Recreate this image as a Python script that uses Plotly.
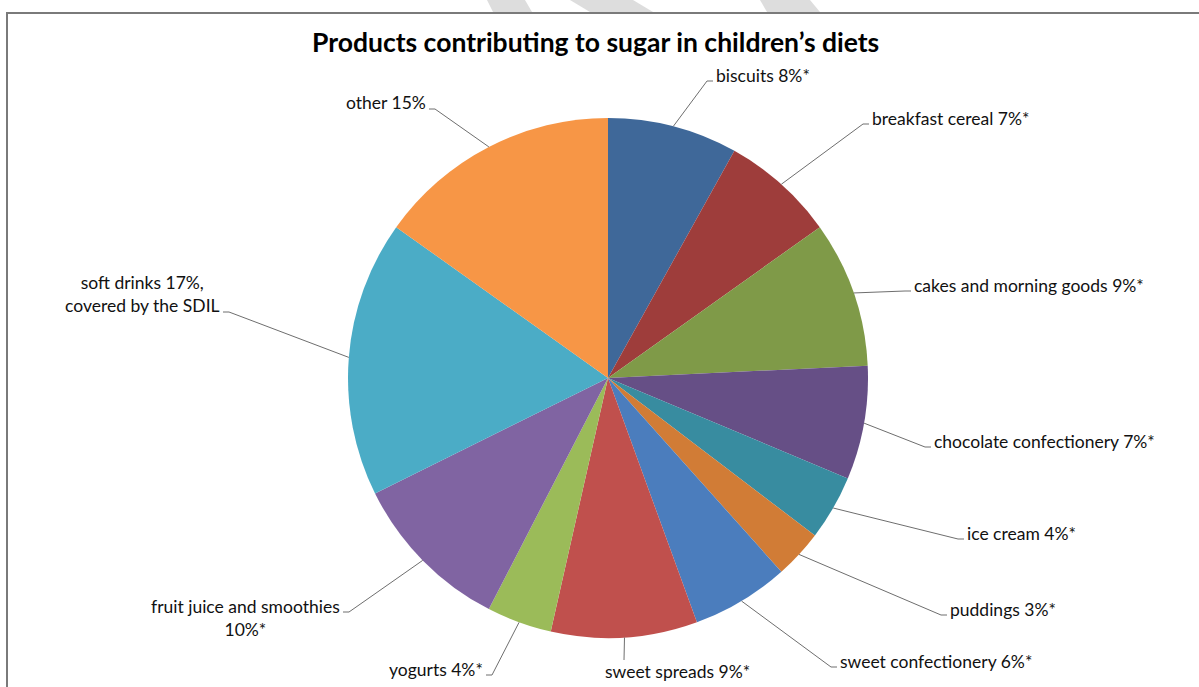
import math
import plotly.graph_objects as go

W, H = 1199, 687

# ---- data -------------------------------------------------------------
categories = [
    "biscuits", "breakfast cereal", "cakes and morning goods",
    "chocolate confectionery", "ice cream", "puddings",
    "sweet confectionery", "sweet spreads", "yogurts",
    "fruit juice and smoothies", "soft drinks", "other",
]
shares = [8, 7, 9, 7, 4, 3, 6, 9, 4, 10, 17, 15]
label_formats = [
    "{c} {v}%*", "{c} {v}%*", "{c} {v}%*", "{c} {v}%*", "{c} {v}%*",
    "{c} {v}%*", "{c} {v}%*", "{c} {v}%*", "{c} {v}%*",
    "{c}<br>{v}%*", "{c} {v}%,<br>covered by the SDIL", "{c} {v}%",
]
title_text = "Products contributing to sugar in children\u2019s diets"

# ---- styling ----------------------------------------------------------
slice_colors = [
    "#3F6899", "#9E3D3B", "#7F9A48", "#664F86", "#388CA0", "#D17C36",
    "#4B7DBD", "#C0504D", "#9BBB59", "#8064A2", "#4BACC6", "#F79646",
]
FONT = "Lato"
LINE_COLOR = "#6e6e6e"

# pie geometry in pixels
CX, CY, R = 608, 378, 260

# label placement in pixels: (text x, text y, xanchor, elbow x, elbow y)
label_layout = [
    (714, 75, "left", 707, 81),
    (870, 118, "left", 863, 124),
    (912, 285, "left", 905, 291),
    (932, 441, "left", 925, 447),
    (965, 533, "left", 958, 539),
    (948, 609, "left", 941, 615),
    (838, 661, "left", 831, 667),
    (603, 671, "left", 624, 660),
    (485, 669, "right", 492, 675),
    (342, 618, "right", 349, 612),
    (222, 294, "right", 229, 312),
    (428, 103, "right", 435, 109),
]


def px(x):
    return x / W


def py(y):
    return 1 - y / H


fig = go.Figure(
    go.Pie(
        labels=categories,
        values=shares,
        sort=False,
        direction="clockwise",
        rotation=0,
        marker=dict(colors=slice_colors, line=dict(width=0)),
        textinfo="none",
        hoverinfo="label+percent",
        showlegend=False,
        domain=dict(x=[px(CX - R), px(CX + R)], y=[py(CY + R), py(CY - R)]),
    )
)

total = sum(shares)
shapes = []
annotations = []
cum = 0
for cat, v, fmt, (tx, ty, xa, ex, ey) in zip(categories, shares, label_formats, label_layout):
    mid = (cum + v / 2) / total * 2 * math.pi
    cum += v
    sx = CX + R * math.sin(mid)
    sy = CY - R * math.cos(mid)
    if cat == "sweet spreads":
        path = f"M {px(sx)},{py(sy)} L {px(ex)},{py(ey)}"
    else:
        hx = ex + 6 if xa == "left" else ex - 6
        path = f"M {px(sx)},{py(sy)} L {px(ex)},{py(ey)} L {px(hx)},{py(ey)}"
    shapes.append(dict(type="path", xref="paper", yref="paper", path=path,
                       line=dict(color=LINE_COLOR, width=1)))
    annotations.append(dict(
        text=fmt.format(c=cat, v=v), x=px(tx), y=py(ty), xref="paper", yref="paper",
        xanchor=xa, yanchor="middle", align="center", showarrow=False,
        font=dict(family=FONT, size=17.5, color="#111111"),
    ))

# chart frame (top and left edges)
shapes.append(dict(type="path", xref="paper", yref="paper",
                   path=f"M {px(1199)},{py(13)} L {px(7)},{py(13)} L {px(7)},{py(687)}",
                   line=dict(color="#7a7a7a", width=2)))

# light diagonal strokes above the frame
for (a0, a1, b0, b1) in [(487, 525, 493, 532), (570, 633, 590, 653), (760, 810, 767, 820)]:
    shapes.append(dict(type="path", xref="paper", yref="paper",
                       path=f"M {px(a0)},{py(0)} L {px(a1)},{py(0)} L {px(b1)},{py(12)} L {px(b0)},{py(12)} Z",
                       fillcolor="#dddddd", line=dict(width=0), layer="below"))

annotations.append(dict(
    text=f"<b>{title_text}</b>", x=px(595), y=py(42), xref="paper", yref="paper",
    xanchor="center", yanchor="middle", showarrow=False,
    font=dict(family=FONT, size=26.5, color="#000000"),
))

fig.update_layout(
    width=W, height=H,
    margin=dict(l=0, r=0, t=0, b=0),
    paper_bgcolor="white", plot_bgcolor="white",
    shapes=shapes, annotations=annotations,
)

fig.write_html("out.html")
